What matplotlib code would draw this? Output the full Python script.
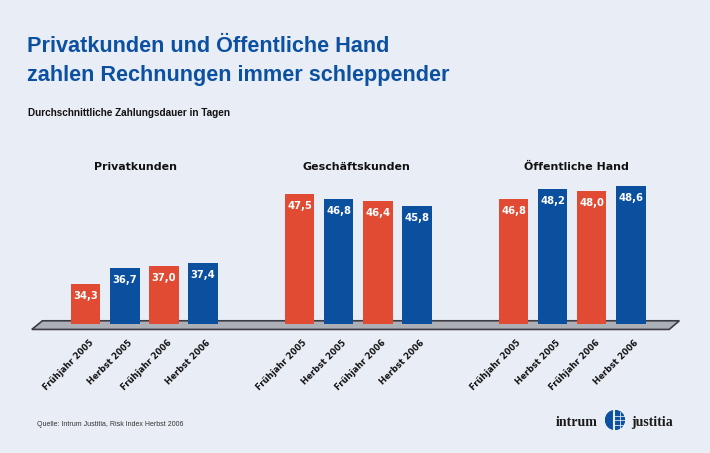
import numpy as np
import matplotlib.pyplot as plt
from matplotlib.patches import Polygon, Circle

# Data
groups = ["Privatkunden", "Geschäftskunden", "Öffentliche Hand"]
periods = ["Frühjahr 2005", "Herbst 2005", "Frühjahr 2006", "Herbst 2006"]
privat = [34.3, 36.7, 37.0, 37.4]
geschaeft = [47.5, 46.8, 46.4, 45.8]
oeffentlich = [46.8, 48.2, 48.0, 48.6]
values = [privat, geschaeft, oeffentlich]

title_1 = "Privatkunden und Öffentliche Hand"
title_2 = "zahlen Rechnungen immer schleppender"
subtitle = "Durchschnittliche Zahlungsdauer in Tagen"
source = "Quelle: Intrum Justitia, Risk Index Herbst 2006"

# Styling
BG = "#e9edf5"
RED = "#e14b33"
BLUE = "#0b4f9f"
TITLE_BLUE = "#0c50a1"
FLOOR = "#adafb6"
bar_colors = [RED, BLUE, RED, BLUE]

W, H = 710, 453
base = 28.5          # value where the bars meet the floor
group_gap = 5.47     # distance between groups, in bar pitches
bar_width = 0.75
title_shift = [-0.23, -0.06, 0.10]

plt.rcParams['font.family'] = ['Liberation Sans', 'DejaVu Sans']

fig = plt.figure(figsize=(W / 100, H / 100), dpi=100, facecolor=BG)
ax = fig.add_axes([0, 0, 1, 1])
ax.set_facecolor(BG)
ax.set_xlim(-2.194, 15.964)
ax.set_ylim(9.68, 75.81)
ax.axis('off')

# 3D-like floor under the bars
floor = Polygon([(-1.11, 28.98), (15.18, 28.98), (14.92, 27.72), (-1.38, 27.72)],
                closed=True, facecolor=FLOOR, edgecolor="#3c3d44", lw=1.2, zorder=1)
ax.add_patch(floor)

for g, (name, vals) in enumerate(zip(groups, values)):
    xs = g * group_gap + np.arange(len(vals))
    vals = np.array(vals)
    ax.bar(xs, vals - base, bottom=base, width=bar_width, color=bar_colors,
           zorder=2)
    for x, v in zip(xs, vals):
        ax.annotate(f"{v:.1f}".replace(".", ","), (x, v), xytext=(0, -12),
                    textcoords="offset pixels", ha="center", va="center",
                    color="white", fontsize=7.2, fontweight="bold",
                    family="DejaVu Sans", zorder=3)
    for x, p in zip(xs, periods):
        ax.annotate(p, (x, base), xytext=(3, -14), textcoords="offset pixels",
                    rotation=45, rotation_mode="anchor", ha="right", va="top",
                    fontsize=6.1, fontweight="bold", family="DejaVu Sans",
                    color="#111111")
    ax.text(xs.mean() + title_shift[g], 51.5, name, ha="center", va="center",
            fontsize=7.9, fontweight="bold", family="DejaVu Sans", color="#111111")

# Titles
fig.text(27 / W, 1 - 52 / H, title_1, color=TITLE_BLUE, fontsize=15.6,
         fontweight="bold", va="baseline")
fig.text(27 / W, 1 - 81 / H, title_2, color=TITLE_BLUE, fontsize=15.6,
         fontweight="bold", va="baseline")
fig.text(28 / W, 1 - 116 / H, subtitle, color="#111111", fontsize=7.2,
         fontweight="bold", va="baseline")
fig.text(37 / W, 1 - 425 / H, source, color="#333333", fontsize=5.0,
         va="center")

# Logo
fig.text(598 / W, 1 - 425.7 / H, "intrum", ha="right", va="baseline",
         fontsize=10, fontweight="bold", family="Liberation Serif", color="#1a1a1a")
fig.text(631 / W, 1 - 425.7 / H, "justitia", ha="left", va="baseline",
         fontsize=10, fontweight="bold", family="Liberation Serif", color="#1a1a1a")
gax = fig.add_axes([605 / W, 1 - 430 / H, 20 / W, 20 / H])
gax.set_xlim(-1, 1)
gax.set_ylim(-1, 1)
gax.axis('off')
gax.add_patch(Circle((0, 0), 0.95, color=TITLE_BLUE))
for yy in (-0.45, 0, 0.45):
    gax.plot([-0.1, 0.95], [yy, yy], color="white", lw=0.5)
gax.plot([0.45, 0.45], [-0.85, 0.85], color="white", lw=0.5)
gax.plot([-0.15, -0.15], [-0.95, 0.95], color=BG, lw=1.5)

plt.savefig("out.png", dpi=100, facecolor=BG)
